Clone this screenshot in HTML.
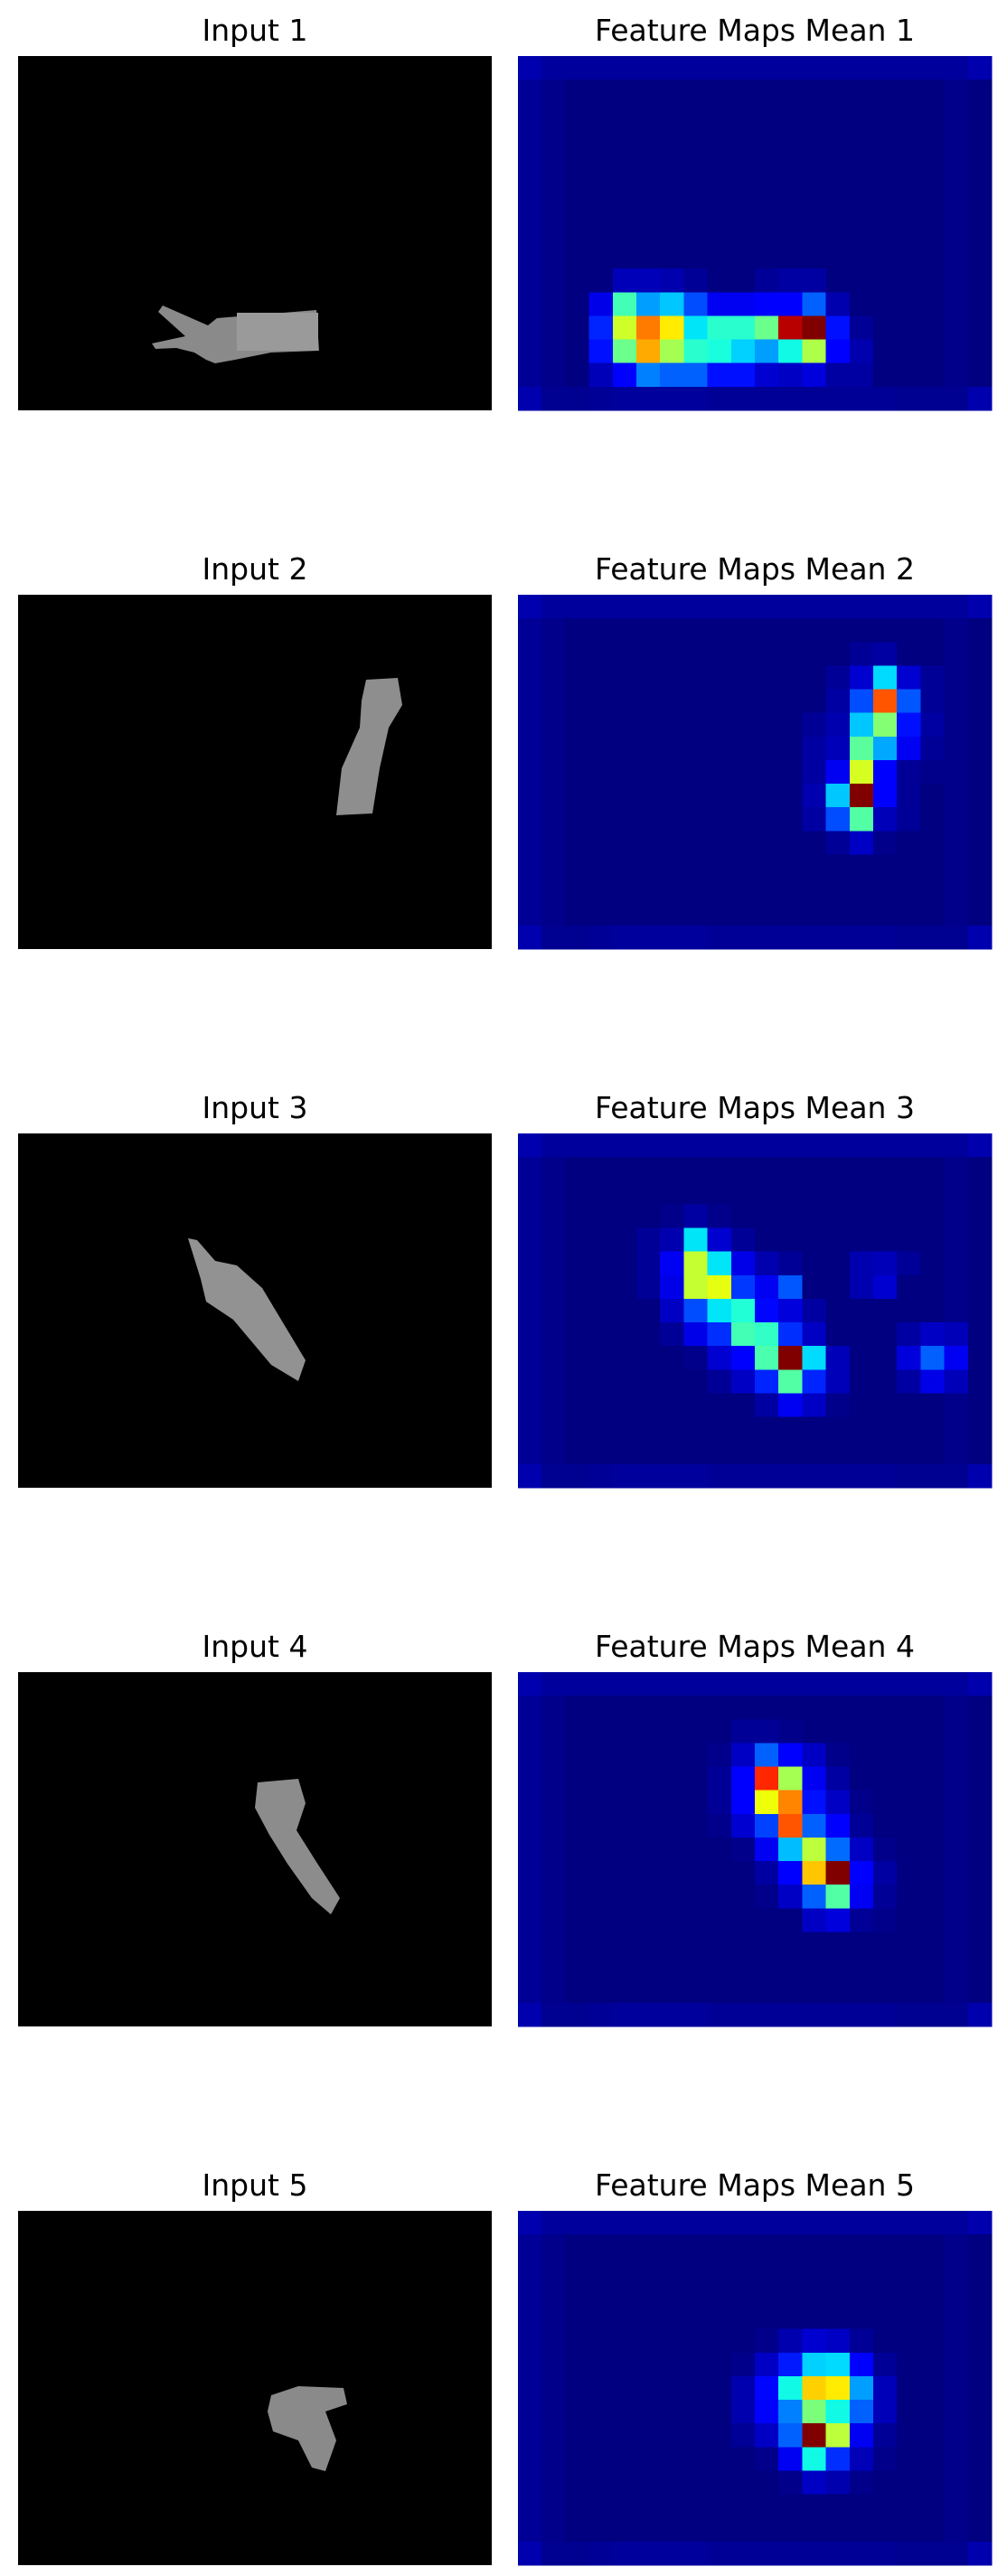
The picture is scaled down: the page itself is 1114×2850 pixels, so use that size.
<!DOCTYPE html>
<html><head><meta charset="utf-8"><style>
html,body{margin:0;padding:0;background:#fff;}
svg{display:block;}
</style></head><body>
<svg id="fig" width="1114" height="2850" viewBox="0 0 1114 2850" xmlns="http://www.w3.org/2000/svg"></svg>
<script>
// ---- data ----
const nCols = 20;
const nRows = 15;
const bgTop = [0.04,0.025,0.025,0.025,0.025,0.025,0.025,0.025,0.025,0.025,0.025,0.025,0.025,0.025,0.025,0.025,0.025,0.025,0.025,0.04];
const bgMid = [0.02,0.01,0.0,0.0,0.0,0.0,0.0,0.0,0.0,0.0,0.0,0.0,0.0,0.0,0.0,0.0,0.0,0.0,0.01,0.0];
const bgBottom = [0.04,0.015,0.015,0.02,0.025,0.025,0.025,0.025,0.02,0.02,0.02,0.02,0.02,0.02,0.02,0.02,0.015,0.015,0.015,0.04];
// hot cells: [row, col, value]
const hot1 = [
 [9,4,0.05],[9,5,0.05],[9,6,0.04],[9,7,0.02],[9,10,0.02],[9,11,0.03],[9,12,0.03],
 [10,3,0.09],[10,4,0.43],[10,5,0.28],[10,6,0.32],[10,7,0.2],[10,8,0.1],[10,9,0.1],[10,10,0.12],[10,11,0.12],[10,12,0.22],[10,13,0.04],
 [11,3,0.16],[11,4,0.6],[11,5,0.78],[11,6,0.66],[11,7,0.35],[11,8,0.4],[11,9,0.4],[11,10,0.48],[11,11,0.95],[11,12,1.0],[11,13,0.14],[11,14,0.02],
 [12,3,0.14],[12,4,0.48],[12,5,0.73],[12,6,0.55],[12,7,0.4],[12,8,0.38],[12,9,0.33],[12,10,0.28],[12,11,0.37],[12,12,0.56],[12,13,0.12],[12,14,0.04],
 [13,3,0.05],[13,4,0.12],[13,5,0.25],[13,6,0.22],[13,7,0.22],[13,8,0.14],[13,9,0.14],[13,10,0.07],[13,11,0.06],[13,12,0.08],[13,13,0.03],[13,14,0.03]
];
const hot2 = [
 [2,14,0.02],[2,15,0.03],
 [3,13,0.02],[3,14,0.07],[3,15,0.34],[3,16,0.07],[3,17,0.02],
 [4,13,0.03],[4,14,0.2],[4,15,0.82],[4,16,0.21],[4,17,0.02],
 [5,12,0.02],[5,13,0.04],[5,14,0.32],[5,15,0.51],[5,16,0.14],[5,17,0.03],
 [6,12,0.03],[6,13,0.05],[6,14,0.46],[6,15,0.29],[6,16,0.1],[6,17,0.02],
 [7,12,0.03],[7,13,0.1],[7,14,0.61],[7,15,0.12],[7,16,0.02],[7,17,0.01],
 [8,12,0.04],[8,13,0.32],[8,14,1.0],[8,15,0.12],[8,16,0.02],
 [9,12,0.03],[9,13,0.2],[9,14,0.45],[9,15,0.05],[9,16,0.02],
 [10,13,0.02],[10,14,0.06],[10,15,0.01]
];
const hot3 = [
 [3,6,0.01],[3,7,0.03],[3,8,0.01],
 [4,5,0.02],[4,6,0.04],[4,7,0.35],[4,8,0.07],[4,9,0.02],
 [5,5,0.02],[5,6,0.1],[5,7,0.59],[5,8,0.35],[5,9,0.09],[5,10,0.04],[5,11,0.02],[5,14,0.04],[5,15,0.05],[5,16,0.02],
 [6,5,0.02],[6,6,0.09],[6,7,0.59],[6,8,0.63],[6,9,0.18],[6,10,0.1],[6,11,0.21],[6,14,0.04],[6,15,0.07],[6,18,0.01],
 [7,6,0.06],[7,7,0.2],[7,8,0.35],[7,9,0.39],[7,10,0.13],[7,11,0.08],[7,12,0.03],
 [8,6,0.02],[8,7,0.09],[8,8,0.17],[8,9,0.43],[8,10,0.41],[8,11,0.17],[8,12,0.06],[8,16,0.03],[8,17,0.06],[8,18,0.05],
 [9,7,0.01],[9,8,0.07],[9,9,0.12],[9,10,0.44],[9,11,1.0],[9,12,0.34],[9,13,0.05],[9,16,0.08],[9,17,0.22],[9,18,0.1],
 [10,8,0.02],[10,9,0.06],[10,10,0.16],[10,11,0.45],[10,12,0.16],[10,13,0.05],[10,16,0.03],[10,17,0.09],[10,18,0.05],
 [11,10,0.03],[11,11,0.1],[11,12,0.06],[11,13,0.01]
];
const hot4 = [
 [2,9,0.02],[2,10,0.02],[2,11,0.01],
 [3,8,0.01],[3,9,0.06],[3,10,0.22],[3,11,0.12],[3,12,0.06],[3,13,0.01],
 [4,8,0.02],[4,9,0.11],[4,10,0.87],[4,11,0.55],[4,12,0.1],[4,13,0.03],
 [5,8,0.02],[5,9,0.11],[5,10,0.64],[5,11,0.77],[5,12,0.14],[5,13,0.06],[5,14,0.01],
 [6,8,0.01],[6,9,0.07],[6,10,0.19],[6,11,0.82],[6,12,0.22],[6,13,0.12],[6,14,0.02],
 [7,9,0.01],[7,10,0.1],[7,11,0.31],[7,12,0.58],[7,13,0.23],[7,14,0.06],[7,15,0.01],
 [8,10,0.03],[8,11,0.12],[8,12,0.7],[8,13,1.0],[8,14,0.12],[8,15,0.03],
 [9,10,0.01],[9,11,0.06],[9,12,0.22],[9,13,0.45],[9,14,0.1],[9,15,0.02],
 [10,12,0.06],[10,13,0.08],[10,14,0.02],[10,15,0.01]
];
const hot5 = [
 [5,10,0.01],[5,11,0.04],[5,12,0.07],[5,13,0.06],[5,14,0.02],
 [6,9,0.01],[6,10,0.06],[6,11,0.15],[6,12,0.33],[6,13,0.34],[6,14,0.12],[6,15,0.02],
 [7,9,0.04],[7,10,0.13],[7,11,0.37],[7,12,0.69],[7,13,0.66],[7,14,0.28],[7,15,0.05],
 [8,9,0.04],[8,10,0.11],[8,11,0.25],[8,12,0.5],[8,13,0.37],[8,14,0.22],[8,15,0.05],
 [9,9,0.02],[9,10,0.06],[9,11,0.22],[9,12,1.0],[9,13,0.58],[9,14,0.1],[9,15,0.02],
 [10,10,0.01],[10,11,0.1],[10,12,0.37],[10,13,0.17],[10,14,0.05],[10,15,0.01],
 [11,11,0.01],[11,12,0.06],[11,13,0.04],[11,14,0.01]
];
const inputTitles = ["Input 1","Input 2","Input 3","Input 4","Input 5"];
const mapTitles = ["Feature Maps Mean 1","Feature Maps Mean 2","Feature Maps Mean 3","Feature Maps Mean 4","Feature Maps Mean 5"];
const hotSets = [hot1,hot2,hot3,hot4,hot5];

// ---- layout ----
const NS = "http://www.w3.org/2000/svg";
const svg = document.getElementById('fig');
const leftX = 20, panelW = 524, rightX = 573, panelH = 392, top0 = 62, pitch = 596;
function xScale(c){ return rightX + c * panelW / nCols; }
function yScale(r, top){ return top + r * panelH / nRows; }
function interp(pts, v){
  for (let i=1;i<pts.length;i++){ if (v<=pts[i][0]){ const a=pts[i-1],b=pts[i]; return a[1]+(b[1]-a[1])*(v-a[0])/(b[0]-a[0]); } }
  return pts[pts.length-1][1];
}
function jet(v){
  v=Math.max(0,Math.min(1,v));
  const r=interp([[0,0],[0.35,0],[0.66,1],[0.89,1],[1,0.5]],v);
  const g=interp([[0,0],[0.125,0],[0.375,1],[0.64,1],[0.91,0],[1,0]],v);
  const b=interp([[0,0.5],[0.11,1],[0.34,1],[0.65,0],[1,0]],v);
  return `rgb(${Math.round(r*255)},${Math.round(g*255)},${Math.round(b*255)})`;
}
function mk(tag, attrs){ const e=document.createElementNS(NS,tag); for(const k in attrs) e.setAttribute(k,attrs[k]); svg.appendChild(e); return e; }

const hands = [
 `<path d="M240 352 L350 343 L353 388 L300 390 L260 398 L238 402 L228 398 L215 390 L195 385 L172 386 L168 380 L205 372 L175 345 L180 338 L230 360 Z" fill="#8a8a8a"/>
  <rect x="262" y="346" width="90" height="42" fill="#9a9a9a"/>`,
 `<path d="M405 752 L440 750 L445 780 L430 805 L420 850 L412 900 L372 902 L378 850 L398 805 L400 775 Z" fill="#8e8e8e"/>`,
 `<path d="M208 1370 L218 1372 L238 1395 L262 1400 L290 1425 L338 1505 L330 1528 L300 1510 L258 1460 L228 1440 L222 1415 Z" fill="#929292"/>`,
 `<path d="M285 1972 L330 1968 L338 1995 L328 2025 L350 2060 L376 2100 L366 2118 L345 2100 L318 2062 L298 2030 L282 2000 Z" fill="#8c8c8c"/>`,
 `<path d="M300 2650 L330 2640 L380 2642 L384 2660 L360 2668 L372 2700 L360 2734 L345 2730 L330 2700 L302 2690 L296 2668 Z" fill="#8a8a8a"/>`
];

for (let i=0;i<5;i++){
  const top = top0 + pitch*i;
  let t = mk('text',{x:leftX+panelW/2, y:top-17, 'text-anchor':'middle','font-family':'DejaVu Sans, Liberation Sans, sans-serif','font-size':'33',fill:'#000'});
  t.textContent = inputTitles[i];
  
  
  t = mk('text',{x:rightX+panelW/2, y:top-17, 'text-anchor':'middle','font-family':'DejaVu Sans, Liberation Sans, sans-serif','font-size':'33',fill:'#000'});
  t.textContent = mapTitles[i];
  
  

  const img = mk('g',{});
  
  
  img.innerHTML = `<rect x="${leftX}" y="${top}" width="${panelW}" height="${panelH}" fill="#000"/>` + hands[i];

  const grid = [];
  for (let r=0;r<nRows;r++){
    const base = r===0 ? bgTop : (r===nRows-1 ? bgBottom : bgMid);
    grid.push(base.slice());
  }
  hotSets[i].forEach(h => { grid[h[0]][h[1]] = h[2]; });
  const g = mk('g',{'shape-rendering':'crispEdges'});
  
  
  for (let r=0;r<nRows;r++) for (let c=0;c<nCols;c++){
    const x0=xScale(c), x1=xScale(c+1), y0=yScale(r,top), y1=yScale(r+1,top);
    const cell=document.createElementNS(NS,'rect');
    cell.setAttribute('x',x0); cell.setAttribute('y',y0);
    cell.setAttribute('width',x1-x0+0.6); cell.setAttribute('height',y1-y0+0.6);
    cell.setAttribute('fill',jet(grid[r][c]));
    
    
    g.appendChild(cell);
  }
}
</script>
</body></html>
